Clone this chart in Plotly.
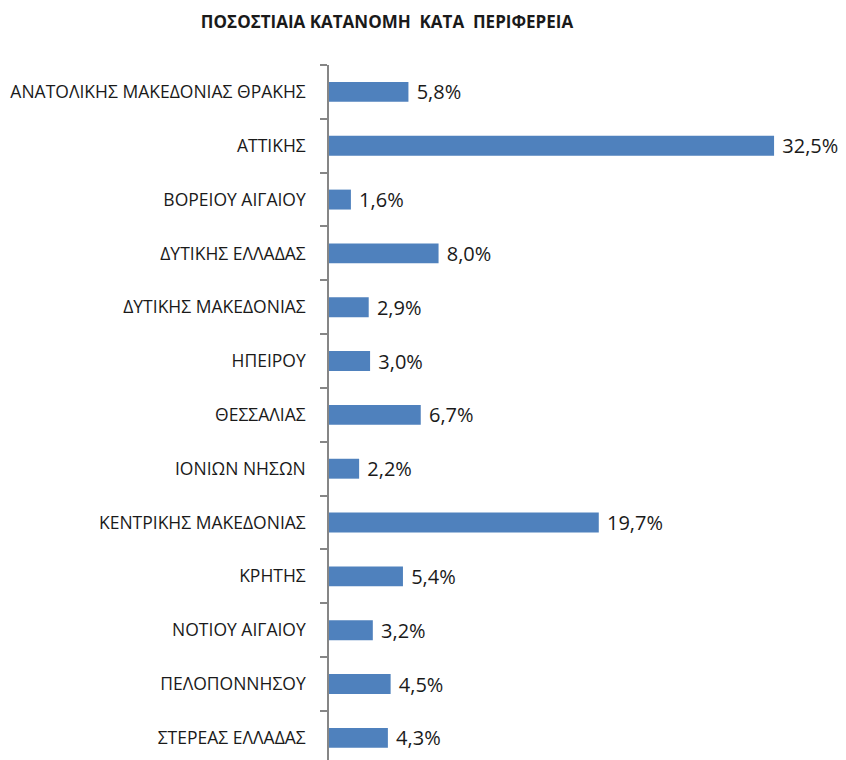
import plotly.graph_objects as go

regions = [
    "ΑΝΑΤΟΛΙΚΗΣ ΜΑΚΕΔΟΝΙΑΣ ΘΡΑΚΗΣ",
    "ΑΤΤΙΚΗΣ",
    "ΒΟΡΕΙΟΥ ΑΙΓΑΙΟΥ",
    "ΔΥΤΙΚΗΣ ΕΛΛΑΔΑΣ",
    "ΔΥΤΙΚΗΣ ΜΑΚΕΔΟΝΙΑΣ",
    "ΗΠΕΙΡΟΥ",
    "ΘΕΣΣΑΛΙΑΣ",
    "ΙΟΝΙΩΝ ΝΗΣΩΝ",
    "ΚΕΝΤΡΙΚΗΣ ΜΑΚΕΔΟΝΙΑΣ",
    "ΚΡΗΤΗΣ",
    "ΝΟΤΙΟΥ ΑΙΓΑΙΟΥ",
    "ΠΕΛΟΠΟΝΝΗΣΟΥ",
    "ΣΤΕΡΕΑΣ ΕΛΛΑΔΑΣ",
]
shares = [5.8, 32.5, 1.6, 8.0, 2.9, 3.0, 6.7, 2.2, 19.7, 5.4, 3.2, 4.5, 4.3]
labels = ["\u00a0" + f"{v:.1f}%".replace(".", ",") for v in shares]
title_text = "ΠΟΣΟΣΤΙΑΙΑ ΚΑΤΑΝΟΜΗ\u00a0\u00a0ΚΑΤΑ\u00a0\u00a0ΠΕΡΙΦΕΡΕΙΑ"

fig = go.Figure(
    go.Bar(
        x=shares,
        y=regions,
        orientation="h",
        marker=dict(color="#4F81BD", line=dict(width=0)),
        width=0.37,
        text=labels,
        textposition="outside",
        constraintext="none",
        textfont=dict(size=20, color="#1a1a1a", family="Open Sans"),
        cliponaxis=False,
        hoverinfo="skip",
    )
)

fig.update_layout(
    width=846,
    height=760,
    plot_bgcolor="white",
    paper_bgcolor="white",
    margin=dict(l=321, r=32, t=57, b=0),
    showlegend=False,
    font=dict(family="Open Sans", color="#1a1a1a"),
    title=dict(
        text=f"<b>{title_text}</b>",
        x=379 / 846,
        xanchor="center",
        y=1 - 14 / 760,
        yanchor="middle",
        font=dict(size=17, family="Open Sans", color="#1a1a1a"),
    ),
)

fig.update_xaxes(
    range=[0, 36],
    visible=False,
)

fig.update_yaxes(
    type="category",
    range=[12.56, -0.5],
    showline=True,
    linecolor="#868686",
    linewidth=1.5,
    ticks="outside",
    tickson="boundaries",
    ticklen=7,
    tickcolor="#868686",
    tickwidth=1.5,
    showgrid=False,
    tickfont=dict(size=17.5, family="Open Sans", color="#1a1a1a"),
    ticklabelstandoff=18,
)

fig.write_html("out.html")
